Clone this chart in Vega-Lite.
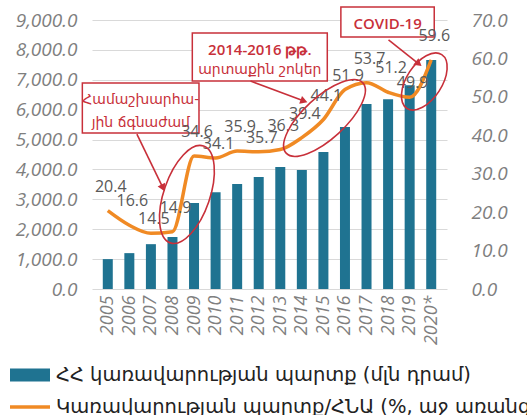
{
  "$schema": "https://vega.github.io/schema/vega-lite/v6.json",
  "autosize": {"type": "none"},
  "width": 355,
  "height": 269,
  "padding": {"left": 92, "top": 20, "right": 80, "bottom": 126},
  "background": "white",
  "config": {"view": {"stroke": null}},
  "datasets": {
    "main": [
      {"year": 2005, "debt": 1000, "ratio": 20.4},
      {"year": 2006, "debt": 1200, "ratio": 16.6},
      {"year": 2007, "debt": 1500, "ratio": 14.5},
      {"year": 2008, "debt": 1740, "ratio": 14.9},
      {"year": 2009, "debt": 2880, "ratio": 34.6},
      {"year": 2010, "debt": 3240, "ratio": 34.1},
      {"year": 2011, "debt": 3510, "ratio": 35.9},
      {"year": 2012, "debt": 3750, "ratio": 35.7},
      {"year": 2013, "debt": 4080, "ratio": 36.3},
      {"year": 2014, "debt": 3980, "ratio": 39.4},
      {"year": 2015, "debt": 4580, "ratio": 44.1},
      {"year": 2016, "debt": 5420, "ratio": 51.9},
      {"year": 2017, "debt": 6190, "ratio": 53.7},
      {"year": 2018, "debt": 6350, "ratio": 51.2},
      {"year": 2019, "debt": 6820, "ratio": 49.9},
      {"year": 2020, "debt": 7660, "ratio": 59.6}
    ]
  },
  "encoding": {
    "x": {
      "field": "year", "type": "quantitative",
      "scale": {"domain": [2004.5, 2020.5], "zero": false, "nice": false},
      "axis": {
        "values": [2005, 2006, 2007, 2008, 2009, 2010, 2011, 2012, 2013, 2014, 2015, 2016, 2017, 2018, 2019, 2020],
        "labelExpr": "datum.value == 2020 ? '2020*' : '' + datum.value",
        "labelAngle": -90, "labelAlign": "right", "labelBaseline": "middle",
        "labelFont": "Open Sans", "labelFontSize": 18, "labelFontStyle": "italic", "labelColor": "#7F7F7F",
        "labelPadding": 6, "grid": false, "domain": false, "ticks": false, "title": null, "labelOverlap": false
      }
    }
  },
  "layer": [
    {
      "data": {"name": "main"},
      "mark": {"type": "bar", "width": 10},
      "encoding": {
        "y": {
          "field": "debt", "type": "quantitative",
          "scale": {"domain": [0, 9000], "nice": false},
          "axis": {
            "values": [0, 1000, 2000, 3000, 4000, 5000, 6000, 7000, 8000, 9000],
            "format": ",.1f", "title": null, "domain": false, "ticks": false,
            "labelFont": "Open Sans", "labelFontSize": 19, "labelFontStyle": "italic", "labelColor": "#7F7F7F",
            "labelPadding": 15, "gridColor": "#D9D9D9", "gridWidth": 1.2
          }
        },
        "color": {
          "datum": "ՀՀ կառավարության պարտք (մլն դրամ)",
          "scale": {
            "domain": ["ՀՀ կառավարության պարտք (մլն դրամ)", "Կառավարության պարտք/ՀՆԱ (%, աջ առանցք)"],
            "range": ["#1F7391", "#F08A24"]
          },
          "legend": {
            "orient": "none", "legendX": -82, "legendY": 345, "direction": "vertical", "title": null,
            "labelFont": "DejaVu Sans", "labelFontSize": 19.5, "labelColor": "#222222", "labelLimit": 1000,
            "symbolSize": 400, "labelOffset": 26, "rowPadding": 12, "symbolType": "square",
            "encode": {
              "symbols": {
                "update": {
                  "shape": {"signal": "datum.index === 0 ? 'M-1,-0.66H3V0.66H-1Z' : 'M-1,-0.18H3V0.18H-1Z'"},
                  "fill": {"signal": "datum.index === 0 ? '#1F7391' : '#F08A24'"},
                  "stroke": {"value": "transparent"},
                  "strokeWidth": {"value": 0},
                  "opacity": {"value": 1}
                }
              }
            }
          }
        }
      }
    },
    {
      "encoding": {
        "y": {
          "field": "pct", "type": "quantitative",
          "scale": {"domain": [0, 70], "nice": false},
          "axis": {
            "orient": "right", "values": [0, 10, 20, 30, 40, 50, 60, 70], "format": ".1f",
            "title": null, "domain": false, "ticks": false, "grid": false,
            "labelFont": "Open Sans", "labelFontSize": 19, "labelFontStyle": "italic", "labelColor": "#7F7F7F",
            "labelPadding": 24
          }
        }
      },
      "layer": [
        {
          "data": {"name": "main"},
          "mark": {"type": "line", "interpolate": "monotone", "strokeWidth": 3.5},
          "encoding": {
            "y": {"field": "ratio", "type": "quantitative"},
            "color": {"datum": "Կառավարության պարտք/ՀՆԱ (%, աջ առանցք)"}
          }
        },
        {
          "data": {"values": [
            {"year": 2003.82, "year2": 2009.23, "pct": 53.6, "pct2": 40.6},
            {"year": 2008.92, "year2": 2015.18, "pct": 66.6, "pct2": 54.1},
            {"year": 2015.81, "year2": 2020.14, "pct": 73.4, "pct2": 65.6}
          ]},
          "mark": {"type": "rect", "fill": "white", "stroke": "#C8303A", "strokeWidth": 1.5},
          "encoding": {
            "x2": {"field": "year2"},
            "y2": {"field": "pct2"}
          }
        },
        {
          "data": {"values": [
            {"year": 2006.53, "pct": 49.2, "text": "Համաշխարհա-"},
            {"year": 2006.53, "pct": 43.2, "text": "յին ճգնաժամ"},
            {"year": 2012.05, "pct": 57.0, "text": "արտաքին շոկեր"}
          ]},
          "mark": {"type": "text", "font": "DejaVu Sans", "fontSize": 14, "color": "#C8303A"},
          "encoding": {
            "text": {"field": "text"}
          }
        },
        {
          "data": {"values": [
            {"year": 2012.05, "pct": 62.2, "text": "2014-2016 թթ."},
            {"year": 2017.98, "pct": 69.0, "text": "COVID-19"}
          ]},
          "mark": {"type": "text", "font": "Open Sans", "fontSize": 15, "fontWeight": 600, "color": "#C8303A"},
          "encoding": {
            "text": {"field": "text"}
          }
        },
        {
          "data": {"values": [
            {"year": 2006.35, "year2": 2007.56, "pct": 40.3, "pct2": 26.3},
            {"year": 2011.62, "year2": 2014.1, "pct": 54.1, "pct2": 48.9},
            {"year": 2018.02, "year2": 2019.42, "pct": 64.8, "pct2": 58.6}
          ]},
          "mark": {"type": "rule", "color": "#C8303A", "strokeWidth": 1.6},
          "encoding": {
            "x2": {"field": "year2"},
            "y2": {"field": "pct2"}
          }
        },
        {
          "data": {"values": [{"year": 2007.56, "pct": 26.3}]},
          "mark": {"type": "point", "shape": "triangle-down", "filled": true, "size": 70, "angle": 333, "color": "#C8303A", "opacity": 1}
        },
        {
          "data": {"values": [{"year": 2014.1, "pct": 48.9}]},
          "mark": {"type": "point", "shape": "triangle-down", "filled": true, "size": 70, "angle": 290, "color": "#C8303A", "opacity": 1}
        },
        {
          "data": {"values": [{"year": 2019.42, "pct": 58.6}]},
          "mark": {"type": "point", "shape": "triangle-down", "filled": true, "size": 70, "angle": 308, "color": "#C8303A", "opacity": 1}
        },
        {
          "data": {"name": "main"},
          "transform": [{"filter": {"field": "year", "oneOf": [2005, 2006, 2008, 2009, 2011, 2013, 2014, 2015, 2017, 2018, 2020]}}],
          "mark": {"type": "text", "dy": -24, "dx": 3, "font": "Open Sans", "fontSize": 16, "color": "#595959"},
          "encoding": {
            "y": {"field": "ratio", "type": "quantitative"},
            "text": {"field": "ratio", "type": "quantitative", "format": ".1f"}
          }
        },
        {
          "data": {"name": "main"},
          "transform": [{"filter": {"field": "year", "oneOf": [2007, 2010, 2012, 2016, 2019]}}],
          "mark": {"type": "text", "dy": -14, "dx": 3, "font": "Open Sans", "fontSize": 16, "color": "#595959"},
          "encoding": {
            "y": {"field": "ratio", "type": "quantitative"},
            "text": {"field": "ratio", "type": "quantitative", "format": ".1f"}
          }
        },
        {
          "data": {"values": [{"year": 2008.67, "pct": 24.6}]},
          "mark": {"type": "point", "shape": "M1,0C1,0.2485,0.5523,0.45,0,0.45C-0.5523,0.45,-1,0.2485,-1,0C-1,-0.2485,-0.5523,-0.45,0,-0.45C0.5523,-0.45,1,-0.2485,1,0Z", "filled": false, "size": 10486, "angle": 289, "stroke": "#C8303A", "strokeWidth": 1.6, "opacity": 1}
        },
        {
          "data": {"values": [{"year": 2015.05, "pct": 44.5}]},
          "mark": {"type": "point", "shape": "M1,0C1,0.2209,0.5523,0.4,0,0.4C-0.5523,0.4,-1,0.2209,-1,0C-1,-0.2209,-0.5523,-0.4,0,-0.4C0.5523,-0.4,1,-0.2209,1,0Z", "filled": false, "size": 10816, "angle": 317.5, "stroke": "#C8303A", "strokeWidth": 1.6, "opacity": 1}
        },
        {
          "data": {"values": [{"year": 2019.68, "pct": 54.0}]},
          "mark": {"type": "point", "shape": "M1,0C1,0.3038,0.5523,0.55,0,0.55C-0.5523,0.55,-1,0.3038,-1,0C-1,-0.3038,-0.5523,-0.55,0,-0.55C0.5523,-0.55,1,-0.3038,1,0Z", "filled": false, "size": 4100, "angle": 303, "stroke": "#C8303A", "strokeWidth": 1.6, "opacity": 1}
        }
      ]
    }
  ],
  "resolve": {"scale": {"y": "independent"}}
}
